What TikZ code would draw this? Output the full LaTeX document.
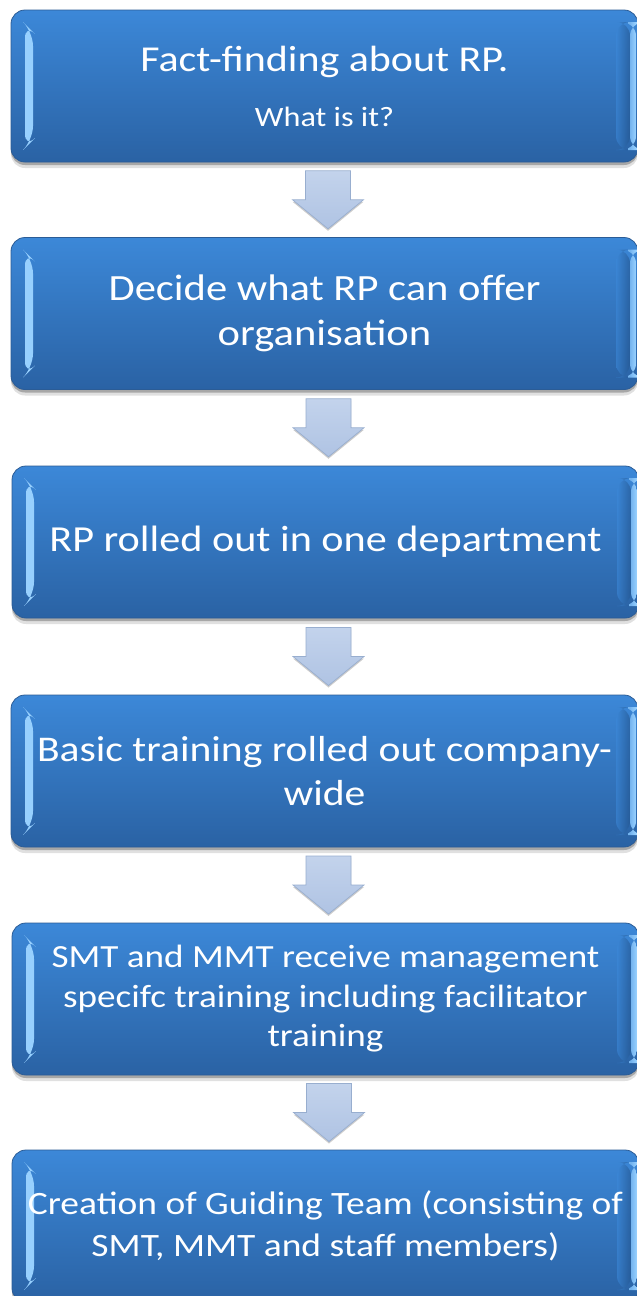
\documentclass[tikz,border=0pt]{standalone}
\usepackage{fontspec}
\setmainfont{Carlito}[FakeStretch=1.15]
\usetikzlibrary{calc,shadows}

\definecolor{boxtop}{HTML}{3C88D8}
\definecolor{boxbot}{HTML}{2A62A4}
\definecolor{boxedge}{HTML}{2B5C96}
\definecolor{bevlight}{HTML}{9AD2FF}
\definecolor{bevdark}{HTML}{22538C}
\definecolor{arrtop}{HTML}{C3D3EC}
\definecolor{arrbot}{HTML}{AFC3E3}
\definecolor{arredge}{HTML}{98AECF}

\tikzset{
  stepbox/.style={
    rectangle, rounded corners=14pt,
    minimum width=627pt, minimum height=152pt, inner sep=0pt,
    align=center, text=white,
    top color=boxtop, bottom color=boxbot,
    draw=boxedge, line width=0.8pt,
    drop shadow={shadow xshift=0pt, shadow yshift=-6pt, opacity=0.12, fill=black},
    drop shadow={shadow xshift=0pt, shadow yshift=-3pt, opacity=0.25, fill=black},
    path picture={
      % left bevel highlight
      \shade[left color=bevlight, right color=boxtop]
        ([shift={(14pt,-14pt)}]path picture bounding box.north west) --
        ([shift={(22pt,-22pt)}]path picture bounding box.north west) --
        ([shift={(22pt,22pt)}]path picture bounding box.south west) --
        ([shift={(14pt,14pt)}]path picture bounding box.south west) -- cycle;
      % right bevel: dark inner band and light outer rim
      \shade[left color=boxtop, right color=bevdark, opacity=0.6]
        ([shift={(-22pt,-12pt)}]path picture bounding box.north east) --
        ([shift={(-8pt,-12pt)}]path picture bounding box.north east) --
        ([shift={(-8pt,12pt)}]path picture bounding box.south east) --
        ([shift={(-22pt,12pt)}]path picture bounding box.south east) -- cycle;
      \shade[left color=bevlight!60!boxtop, right color=bevlight]
        ([shift={(-8pt,-12pt)}]path picture bounding box.north east) --
        ([shift={(-2pt,-12pt)}]path picture bounding box.north east) --
        ([shift={(-2pt,12pt)}]path picture bounding box.south east) --
        ([shift={(-8pt,12pt)}]path picture bounding box.south east) -- cycle;
    }
  },
  flowarrow/.style={
    top color=arrtop, bottom color=arrbot, draw=arredge, line width=0.7pt,
    line join=miter,
    drop shadow={shadow xshift=0pt, shadow yshift=-2pt, opacity=0.2, fill=black}
  }
}

% block arrow pointing down, centred between two step boxes
\newcommand\steparrow[2]{%
  \path ($(#1.south)!0.5!(#2.north)$) coordinate (am);
  \draw[flowarrow]
    ([shift={(-19pt,29pt)}]am) -- ([shift={(26pt,29pt)}]am) --
    ([shift={(26pt,0pt)}]am) -- ([shift={(39pt,0pt)}]am) --
    ([shift={(3.5pt,-29pt)}]am) -- ([shift={(-32pt,0pt)}]am) --
    ([shift={(-19pt,0pt)}]am) -- cycle;
}

\begin{document}
\begin{tikzpicture}[x=1pt, y=-1pt]
  \useasboundingbox[fill=white] (0,0) rectangle (637,1296);
  \clip (0,0) rectangle (637,1296);

  \node[stepbox, font=\fontsize{36.5}{55}\selectfont] (b1) at (324.5,86)
    {Fact-finding about RP.\\{\fontsize{28}{55}\selectfont What is it?}};
  \node[stepbox, font=\fontsize{37}{44.5}\selectfont] (b2) at (324.5,313.5)
    {Decide what RP can offer\\organisation};
  \node[stepbox, font=\fontsize{36.7}{44}\selectfont] (b3) at (325.5,542)
    {RP rolled out in one department};
  \node[stepbox, font=\fontsize{36.2}{44}\selectfont] (b4) at (324.5,771)
    {Basic training rolled out company-\\wide};
  \node[stepbox, font=\fontsize{32.3}{39.5}\selectfont] (b5) at (325.5,999)
    {SMT and MMT receive management\\specifc training including facilitator\\training};
  \node[stepbox, font=\fontsize{32.6}{42}\selectfont] (b6) at (325.5,1226)
    {Creation of Guiding Team (consisting of\\SMT, MMT and staff members)};

  \steparrow{b1}{b2}
  \steparrow{b2}{b3}
  \steparrow{b3}{b4}
  \steparrow{b4}{b5}
  \steparrow{b5}{b6}
\end{tikzpicture}
\end{document}
